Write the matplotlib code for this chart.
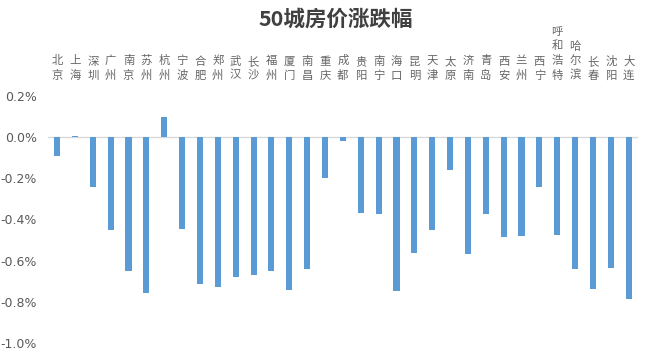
import matplotlib
matplotlib.use("Agg")
import matplotlib.pyplot as plt
import numpy as np

cities = ["北京", "上海", "深圳", "广州", "南京", "苏州", "杭州", "宁波", "合肥", "郑州",
          "武汉", "长沙", "福州", "厦门", "南昌", "重庆", "成都", "贵阳", "南宁", "海口",
          "昆明", "天津", "太原", "济南", "青岛", "西安", "兰州", "西宁", "呼和浩特",
          "哈尔滨", "长春", "沈阳", "大连"]
changes = [-0.094, 0.005, -0.244, -0.45, -0.65, -0.755, 0.10, -0.445, -0.715, -0.73,
           -0.68, -0.67, -0.65, -0.745, -0.64, -0.20, -0.02, -0.37, -0.374, -0.746,
           -0.565, -0.45, -0.159, -0.568, -0.374, -0.485, -0.48, -0.24, -0.476,
           -0.64, -0.738, -0.634, -0.785]
yticks = [0.2, 0.0, -0.2, -0.4, -0.6, -0.8, -1.0]
title = "50城房价涨跌幅"

plt.rcParams['font.family'] = ['Noto Sans CJK SC', 'DejaVu Sans']

fig = plt.figure(figsize=(6.5, 3.58), dpi=100)
ax = fig.add_axes([0.074, 0.042, 0.907, 0.690])

x = np.arange(len(cities))
ax.bar(x, changes, width=0.34, color="#5B9BD5", zorder=3)
ax.axhline(0, color="#D9D9D9", lw=1, zorder=2)

ax.set_xlim(-0.5, len(cities) - 0.5)
ax.set_ylim(-1.0, 0.2)
ax.set_yticks(yticks)
ax.set_yticklabels([f"{v:.1f}%" for v in yticks], color="#595959", fontsize=9,
                   family=['DejaVu Sans'])
ax.tick_params(axis='y', length=0, pad=8)

ax.xaxis.tick_top()
ax.set_xticks(x)
ax.set_xticklabels(["\n".join(c) for c in cities], color="#666666", fontsize=8.2,
                   linespacing=1.4)
ax.tick_params(axis='x', length=0, pad=11)

for s in ax.spines.values():
    s.set_visible(False)

fig.text(0.517, 0.947, title, ha="center", va="center", fontsize=15.5, fontweight="bold",
         color="#404040")

fig.savefig("out.png", dpi=100)
